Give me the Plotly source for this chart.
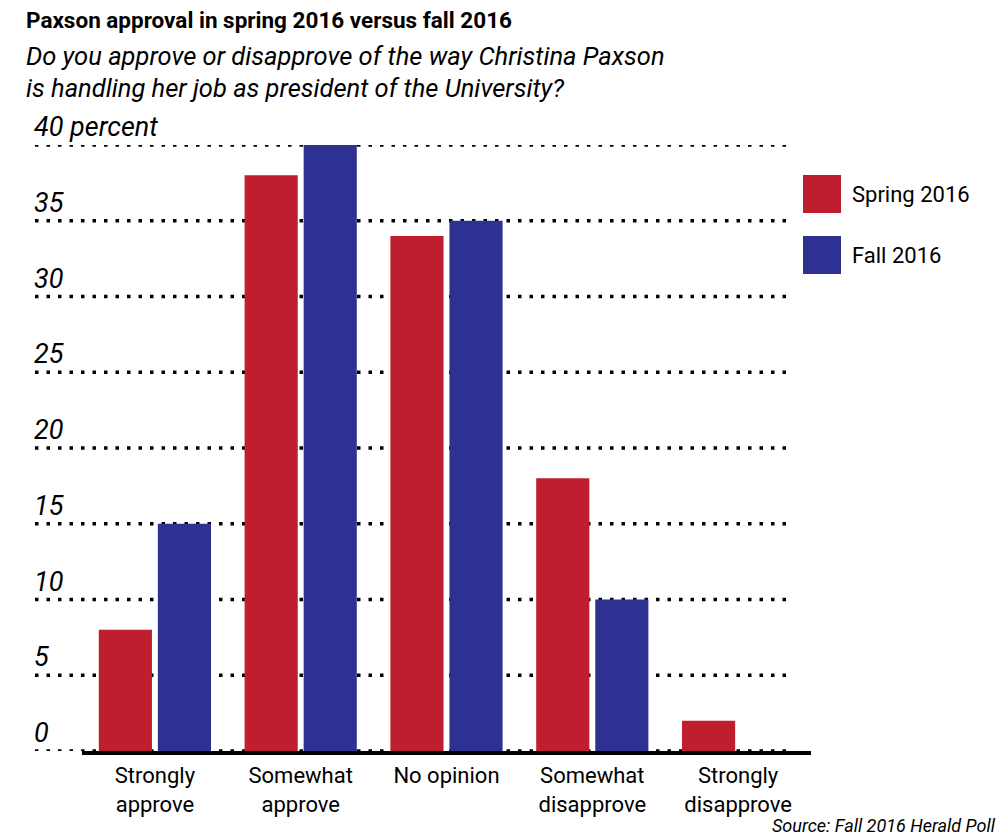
import plotly.graph_objects as go

categories = ["Strongly<br>approve", "Somewhat<br>approve", "No opinion", "Somewhat<br>disapprove", "Strongly<br>disapprove"]
spring_2016 = [8, 38, 34, 18, 2]
fall_2016 = [15, 40, 35, 10, 0]
y_ticks = [0, 5, 10, 15, 20, 25, 30, 35, 40]
y_tick_labels = ["0", "5", "10", "15", "20", "25", "30", "35", "40 percent"]

RED = "#BE1E2D"
BLUE = "#2E3192"
FONT = "Roboto"

# plot area in pixels: x 82..811, y 145..751
L, R, T, B = 82, 189, 145, 89
W = 1000 - L - R
H = 840 - T - B

def px(x):
    return (x - L) / W

def py(y):
    return (840 - B - y) / H

fig = go.Figure()
fig.add_trace(go.Bar(x=categories, y=spring_2016, name="Spring 2016",
                     marker=dict(color=RED, line=dict(width=0)), showlegend=False))
fig.add_trace(go.Bar(x=categories, y=fall_2016, name="Fall 2016",
                     marker=dict(color=BLUE, line=dict(width=0)), showlegend=False))

shapes = []
for v in y_ticks:
    shapes.append(dict(type="line", xref="paper", yref="y", x0=px(35), x1=px(790), y0=v, y1=v,
                       line=dict(color="black", width=3.5, dash="3.5px,8px"), layer="below"))

annotations = []
for v, t in zip(y_ticks, y_tick_labels):
    annotations.append(dict(x=px(32), y=v, xref="paper", yref="y", text=t, showarrow=False,
                            xanchor="left", yanchor="bottom", yshift=0,
                            font=dict(family=FONT, size=27, color="black", style="italic")))

annotations.append(dict(x=px(24), y=py(20), xref="paper", yref="paper", showarrow=False,
                        text="<b>Paxson approval in spring 2016 versus fall 2016</b>",
                        xanchor="left", yanchor="middle",
                        font=dict(family=FONT, size=22.5, color="black")))
annotations.append(dict(x=px(24), y=py(56), xref="paper", yref="paper", showarrow=False,
                        text="Do you approve or disapprove of the way Christina Paxson",
                        xanchor="left", yanchor="middle",
                        font=dict(family=FONT, size=25.5, color="black", style="italic")))
annotations.append(dict(x=px(24), y=py(88), xref="paper", yref="paper", showarrow=False,
                        text="is handling her job as president of the University?",
                        xanchor="left", yanchor="middle",
                        font=dict(family=FONT, size=25.5, color="black", style="italic")))

# legend
for name, col, top in [("Spring 2016", RED, 175), ("Fall 2016", BLUE, 236)]:
    shapes.append(dict(type="rect", xref="paper", yref="paper", x0=px(803), x1=px(841),
                       y0=py(top + 38), y1=py(top), fillcolor=col, line=dict(width=0)))
    annotations.append(dict(x=px(850), y=py(top + 19), xref="paper", yref="paper", text=name,
                            showarrow=False, xanchor="left", yanchor="middle",
                            font=dict(family=FONT, size=22, color="black")))

annotations.append(dict(x=px(998), y=py(825), xref="paper", yref="paper",
                        text="Source: Fall 2016 Herald Poll", showarrow=False,
                        xanchor="right", yanchor="middle",
                        font=dict(family=FONT, size=18, color="black", style="italic")))

fig.update_layout(
    width=1000, height=840,
    margin=dict(l=L, r=R, t=T, b=B),
    paper_bgcolor="white", plot_bgcolor="white",
    barmode="group", bargap=0.19, bargroupgap=0.1,
    shapes=shapes, annotations=annotations,
    xaxis=dict(showline=True, linecolor="black", linewidth=4, showgrid=False,
               ticks="", tickfont=dict(family=FONT, size=22, color="black"), ticklabelstandoff=2),
    yaxis=dict(range=[0, 40], showgrid=False, zeroline=False, showticklabels=False, showline=False),
    showlegend=False,
)

fig.write_html("out.html", config={"displayModeBar": False},
               post_script="document.body.style.margin='0';document.body.style.overflow='hidden';")
